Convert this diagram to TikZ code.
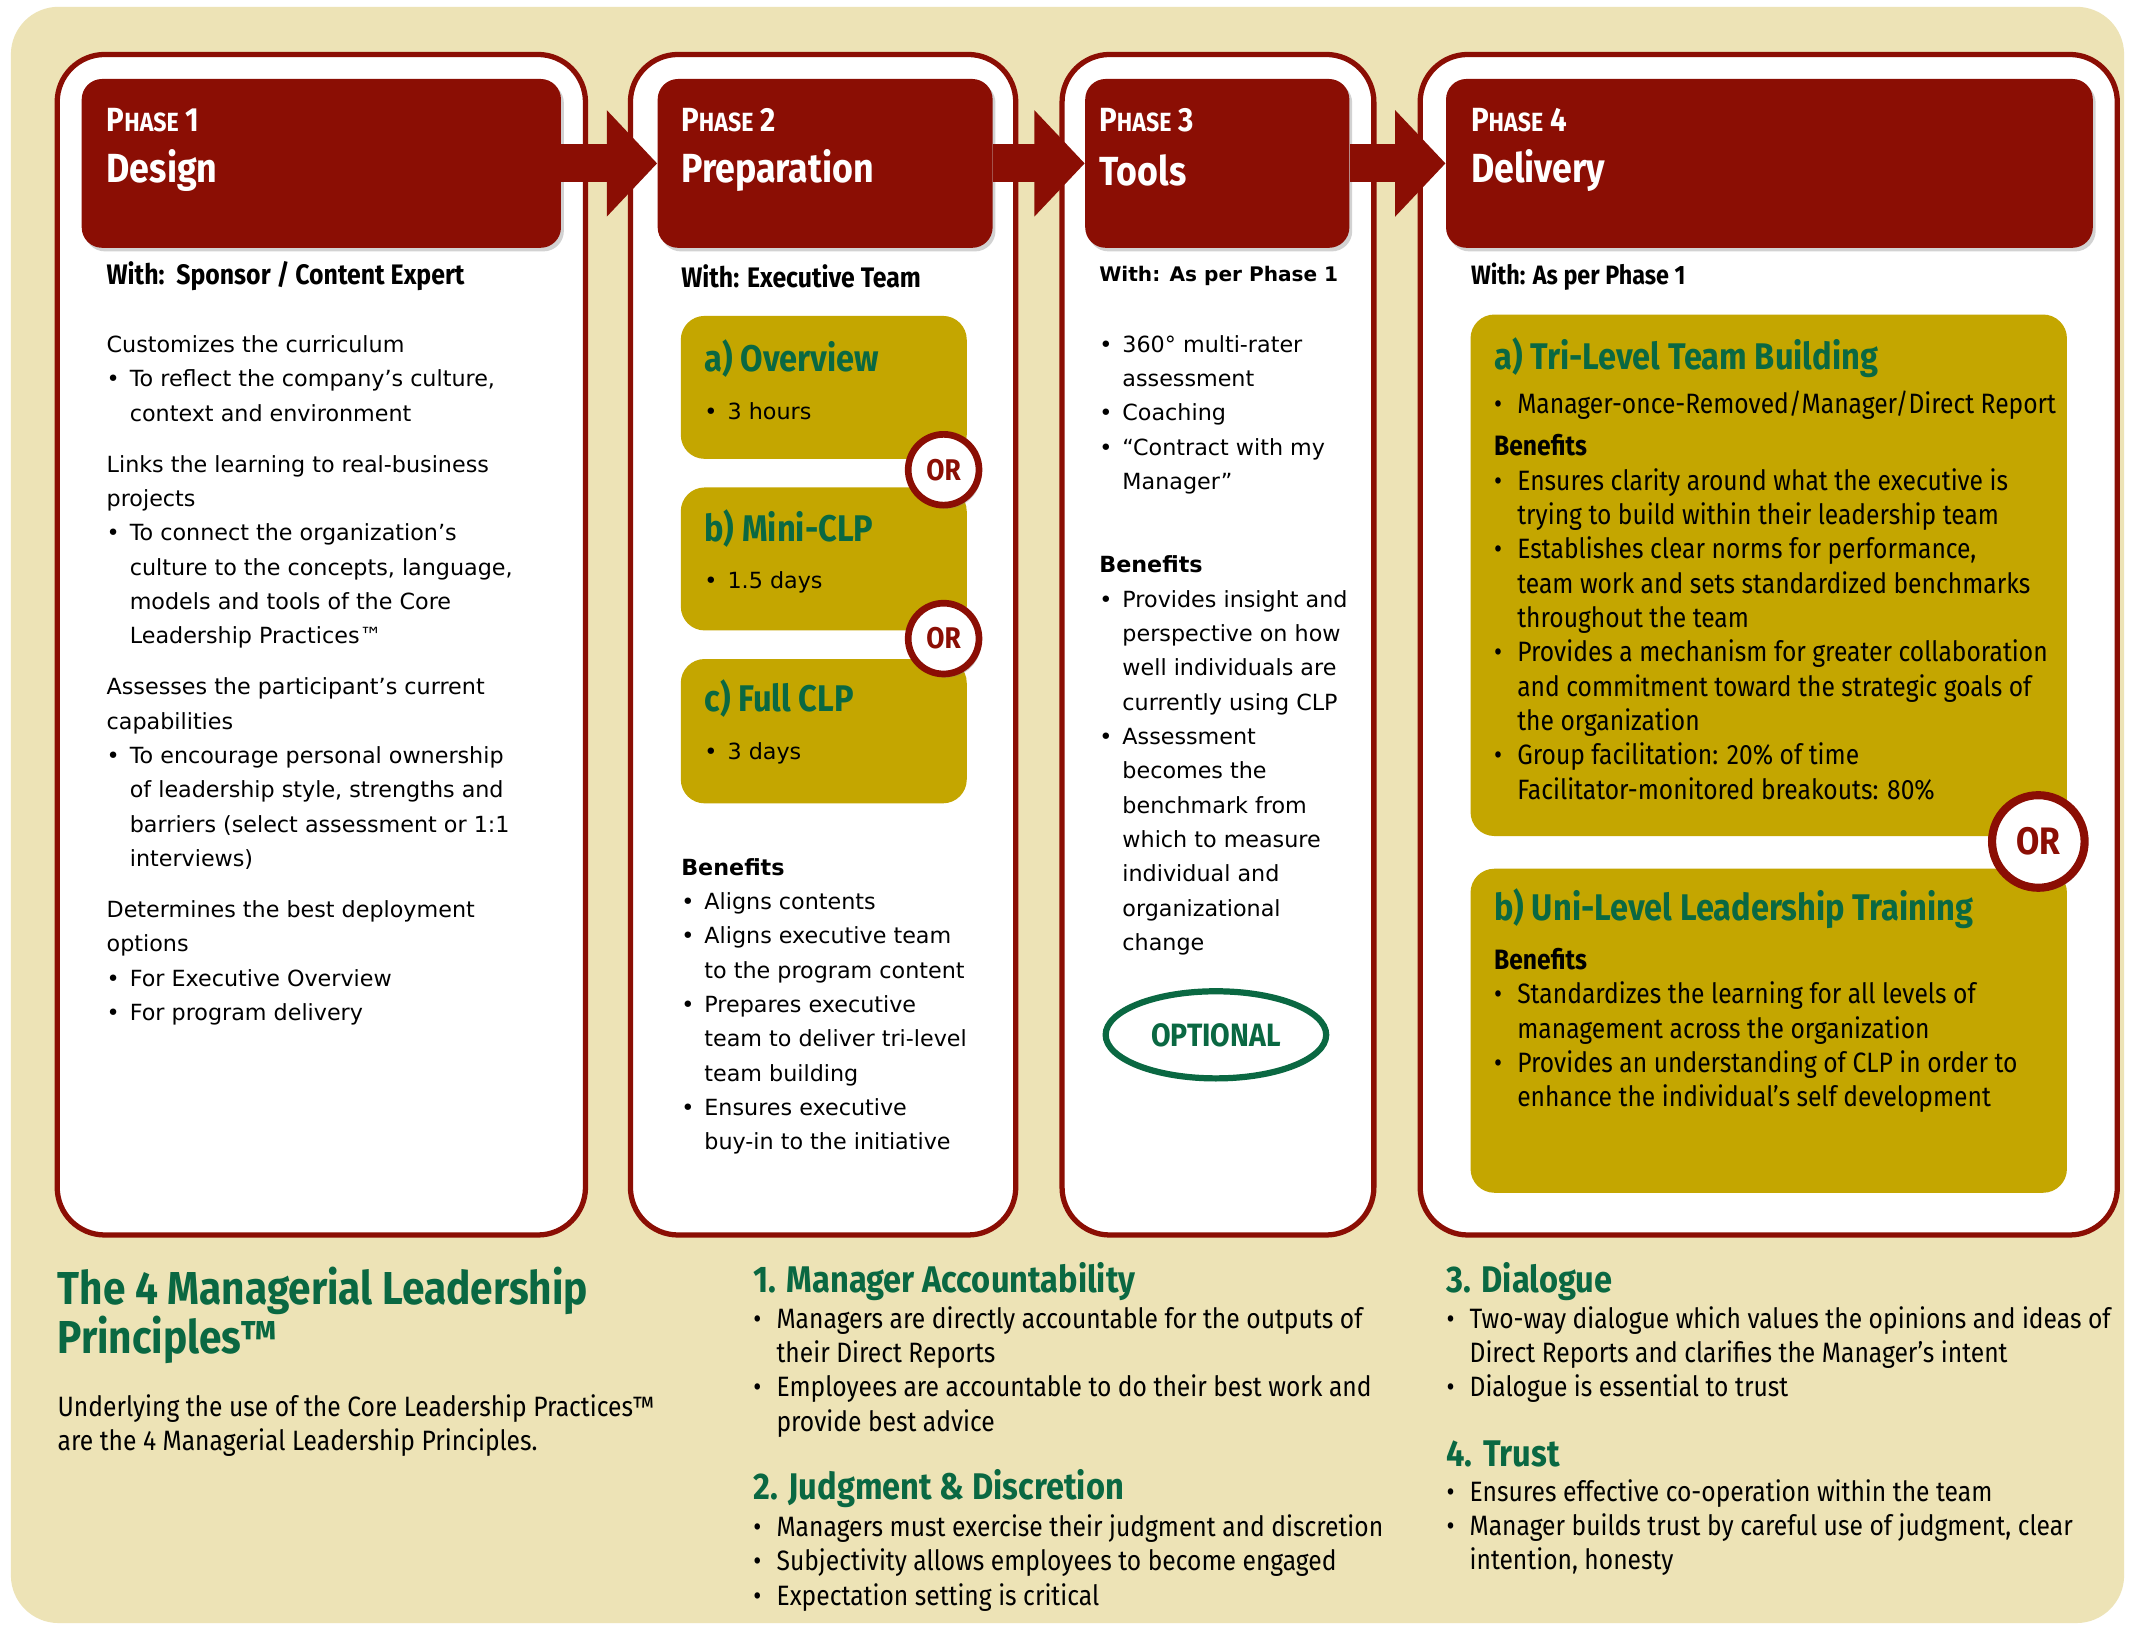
\documentclass[tikz,border=0pt]{standalone}
\usepackage{fontspec}
\setmainfont{Fira Sans}[FakeStretch=0.88]
\newfontfamily\widefont{DejaVu Sans}
\usetikzlibrary{positioning,calc,fit,shadows,shapes.geometric,arrows.meta}

\definecolor{phred}{RGB}{139,14,4}
\definecolor{bgbeige}{RGB}{237,227,182}
\definecolor{optgold}{RGB}{196,166,0}
\definecolor{clpgreen}{RGB}{10,104,66}

\newcommand{\bitem}{\makebox[0.34cm][l]{\textbullet}}
\newcommand{\bcont}{\hspace*{0.34cm}}
\newcommand{\phaselabel}[1]{{\fontsize{14}{14}\selectfont P\fontsize{11}{11}\selectfont HASE\fontsize{14}{14}\selectfont\ #1}}

\begin{document}
\begin{tikzpicture}[x=0.02cm, y=-0.02cm,
    panel/.style={draw=phred, line width=2.2pt, fill=white, rounded corners=0.7cm, inner sep=0pt},
    headbox/.style={fill=phred, rounded corners=0.3cm, inner sep=0pt,
      drop shadow={opacity=0.35, shadow xshift=1.2pt, shadow yshift=-1.5pt}},
    optbox/.style={fill=optgold, rounded corners=0.35cm, inner sep=0pt},
    headarrow/.style={phred, line width=0.56cm, -{Triangle[length=0.74cm, width=1.52cm]}},
    orbadge/.style={circle, draw=phred, fill=white, line width=2.8pt, inner sep=0pt, text=phred,
      font=\bfseries\fontsize{12.5}{12.5}\selectfont,
      drop shadow={opacity=0.4, shadow xshift=1pt, shadow yshift=-1.5pt}},
    phasetxt/.style={anchor=west, inner sep=0pt, text=white, font=\bfseries},
    withtxt/.style={anchor=west, inner sep=0pt, font=\bfseries\fontsize{11.8}{14.35}\selectfont},
    widetxt/.style={anchor=north west, inner sep=0pt, align=left, font=\widefont\fontsize{9.3}{14.35}\selectfont},
    condtxt/.style={anchor=north west, inner sep=0pt, align=left, font=\fontsize{11.7}{14.35}\selectfont},
    greenhead/.style={anchor=west, inner sep=0pt, text=clpgreen, font=\bfseries\fontsize{15.5}{18}\selectfont},
  ]
  \useasboundingbox (0,0) rectangle (1568,1196);
  \fill[white] (0,0) rectangle (1568,1196);
  \fill[bgbeige, rounded corners=0.7cm] (8,5) rectangle (1560,1192);

  % phase panels
  \node[panel, fit={(42,40) (430,907)}] (p1) {};
  \node[panel, fit={(463,40) (746,907)}] (p2) {};
  \node[panel, fit={(780,40) (1009,907)}] (p3) {};
  \node[panel, fit={(1043,40) (1555,907)}] (p4) {};

  % phase headers
  \node[headbox, fit={(60,58) (412,182)}] (h1) {};
  \node[headbox, fit={(483,58) (729,182)}] (h2) {};
  \node[headbox, fit={(797,58) (991,182)}] (h3) {};
  \node[headbox, fit={(1062,58) (1537,182)}] (h4) {};

  \draw[headarrow] (h1.east) -- (h2.west);
  \draw[headarrow] (h2.east) -- (h3.west);
  \draw[headarrow] (h3.east) -- (h4.west);

  \node[phasetxt] (h1cap) at (78,88) {\phaselabel{1}};
  \node[phasetxt, font=\bfseries\fontsize{17}{17}\selectfont] (h1name) at (78,125) {Design};
  \node[phasetxt] (h2cap) at (500,88) {\phaselabel{2}};
  \node[phasetxt, font=\bfseries\fontsize{17}{17}\selectfont] (h2name) at (500,125) {Preparation};
  \node[phasetxt] (h3cap) at (807,88) {\phaselabel{3}};
  \node[phasetxt, font=\bfseries\fontsize{17}{17}\selectfont] (h3name) at (807,125) {Tools};
  \node[phasetxt] (h4cap) at (1080,88) {\phaselabel{4}};
  \node[phasetxt, font=\bfseries\fontsize{17}{17}\selectfont] (h4name) at (1080,125) {Delivery};

  \node[withtxt] (w1) at (78,203) {With:\ \ Sponsor / Content Expert};
  \node[withtxt] (w2) at (500,203) {With: Executive Team};
  \node[withtxt, font=\widefont\bfseries\fontsize{8.4}{14.35}\selectfont] (w3) at (807,203) {With: As per Phase 1};
  \node[withtxt, font=\bfseries\fontsize{11.1}{14.35}\selectfont] (w4) at (1080,203) {With: As per Phase 1};

  % phase 1 design
  \node[widetxt] (design) at (78,246) {Customizes the curriculum\\
    \bitem To reflect the company’s culture,\\
    \bcont context and environment\\[7pt]
    Links the learning to real-business\\
    projects\\
    \bitem To connect the organization’s\\
    \bcont culture to the concepts, language,\\
    \bcont models and tools of the Core\\
    \bcont Leadership Practices™\\[7pt]
    Assesses the participant’s current\\
    capabilities\\
    \bitem To encourage personal ownership\\
    \bcont of leadership style, strengths and\\
    \bcont barriers (select assessment or 1:1\\
    \bcont interviews)\\[7pt]
    Determines the best deployment\\
    options\\
    \bitem For Executive Overview\\
    \bitem For program delivery};

  % phase 2 preparation
  \node[optbox, fit={(500,232) (710,337)}] (ova) {};
  \node[optbox, fit={(500,358) (710,463)}] (ovb) {};
  \node[optbox, fit={(500,484) (710,590)}] (ovc) {};
  \node[orbadge, minimum size=1.04cm] (or1) at (693,345) {OR};
  \node[orbadge, minimum size=1.04cm] (or2) at (693,469) {OR};
  \node[greenhead] (ovahead) at (517,263) {a) Overview};
  \node[widetxt, anchor=west] (ovatxt) at (517,302) {\bitem 3 hours};
  \node[greenhead] (ovbhead) at (517,388) {b) Mini-CLP};
  \node[widetxt, anchor=west] (ovbtxt) at (517,428) {\bitem 1.5 days};
  \node[greenhead] (ovchead) at (517,513) {c) Full CLP};
  \node[widetxt, anchor=west] (ovctxt) at (517,553) {\bitem 3 days};

  \node[widetxt] (prepben) at (500,630) {\textbf{Benefits}\\
    \bitem Aligns contents\\
    \bitem Aligns executive team\\
    \bcont to the program content\\
    \bitem Prepares executive\\
    \bcont team to deliver tri-level\\
    \bcont team building\\
    \bitem Ensures executive\\
    \bcont buy-in to the initiative};

  % phase 3 tools
  \node[widetxt] (tools) at (807,246) {\bitem 360° multi-rater\\
    \bcont assessment\\
    \bitem Coaching\\
    \bitem “Contract with my\\
    \bcont Manager”};
  \node[widetxt] (toolben) at (807,408) {\textbf{Benefits}\\
    \bitem Provides insight and\\
    \bcont perspective on how\\
    \bcont well individuals are\\
    \bcont currently using CLP\\
    \bitem Assessment\\
    \bcont becomes the\\
    \bcont benchmark from\\
    \bcont which to measure\\
    \bcont individual and\\
    \bcont organizational\\
    \bcont change};
  \node[ellipse, draw=clpgreen, line width=2.6pt, minimum width=3.24cm, minimum height=1.28cm,
    inner sep=0pt, text=clpgreen, font=\bfseries\fontsize{13.5}{14}\selectfont] (optional) at (893,760) {OPTIONAL};

  % phase 4 delivery
  \node[optbox, fit={(1080,231) (1518,614)}] (tri) {};
  \node[optbox, fit={(1080,638) (1518,876)}] (uni) {};
  \node[orbadge, minimum size=1.36cm, line width=3.4pt, font=\bfseries\fontsize{16}{16}\selectfont] (or3) at (1497,618) {OR};
  \node[greenhead] (trihead) at (1097,263) {a) Tri-Level Team Building};
  \node[condtxt] (tritxt) at (1097,287) {\bitem Manager-once-Removed/Manager/Direct Report\\[3.2pt]
    \textbf{Benefits}\\
    \bitem Ensures clarity around what the executive is\\
    \bcont trying to build within their leadership team\\
    \bitem Establishes clear norms for performance,\\
    \bcont team work and sets standardized benchmarks\\
    \bcont throughout the team\\
    \bitem Provides a mechanism for greater collaboration\\
    \bcont and commitment toward the strategic goals of\\
    \bcont the organization\\
    \bitem Group facilitation: 20\% of time\\
    \bcont Facilitator-monitored breakouts: 80\%};
  \node[greenhead] (unihead) at (1097,667) {b) Uni-Level Leadership Training};
  \node[condtxt] (unitxt) at (1097,696) {\textbf{Benefits}\\
    \bitem Standardizes the learning for all levels of\\
    \bcont management across the organization\\
    \bitem Provides an understanding of CLP in order to\\
    \bcont enhance the individual’s self development};

  % managerial leadership principles
  \node[anchor=north west, inner sep=0pt, align=left, text=clpgreen,
    font=\bfseries\fontsize{19.3}{20.5}\selectfont] (mlptitle) at (42,930) {The 4 Managerial Leadership\\Principles™};
  \node[condtxt] (mlptxt) at (42,1024) {Underlying the use of the Core Leadership Practices™\\
    are the 4 Managerial Leadership Principles.};

  \node[greenhead] (acchead) at (553,941) {1. Manager Accountability};
  \node[condtxt] (acctxt) at (553,959) {\bitem Managers are directly accountable for the outputs of\\
    \bcont their Direct Reports\\
    \bitem Employees are accountable to do their best work and\\
    \bcont provide best advice};
  \node[greenhead] (judhead) at (553,1093) {2. Judgment \& Discretion};
  \node[condtxt] (judtxt) at (553,1112) {\bitem Managers must exercise their judgment and discretion\\
    \bitem Subjectivity allows employees to become engaged\\
    \bitem Expectation setting is critical};

  \node[greenhead] (diahead) at (1062,941) {3. Dialogue};
  \node[condtxt] (diatxt) at (1062,959) {\bitem Two-way dialogue which values the opinions and ideas of\\
    \bcont Direct Reports and clarifies the Manager’s intent\\
    \bitem Dialogue is essential to trust};
  \node[greenhead] (trusthead) at (1062,1068) {4. Trust};
  \node[condtxt] (trusttxt) at (1062,1086) {\bitem Ensures effective co-operation within the team\\
    \bitem Manager builds trust by careful use of judgment, clear\\
    \bcont intention, honesty};
\end{tikzpicture}
\end{document}
